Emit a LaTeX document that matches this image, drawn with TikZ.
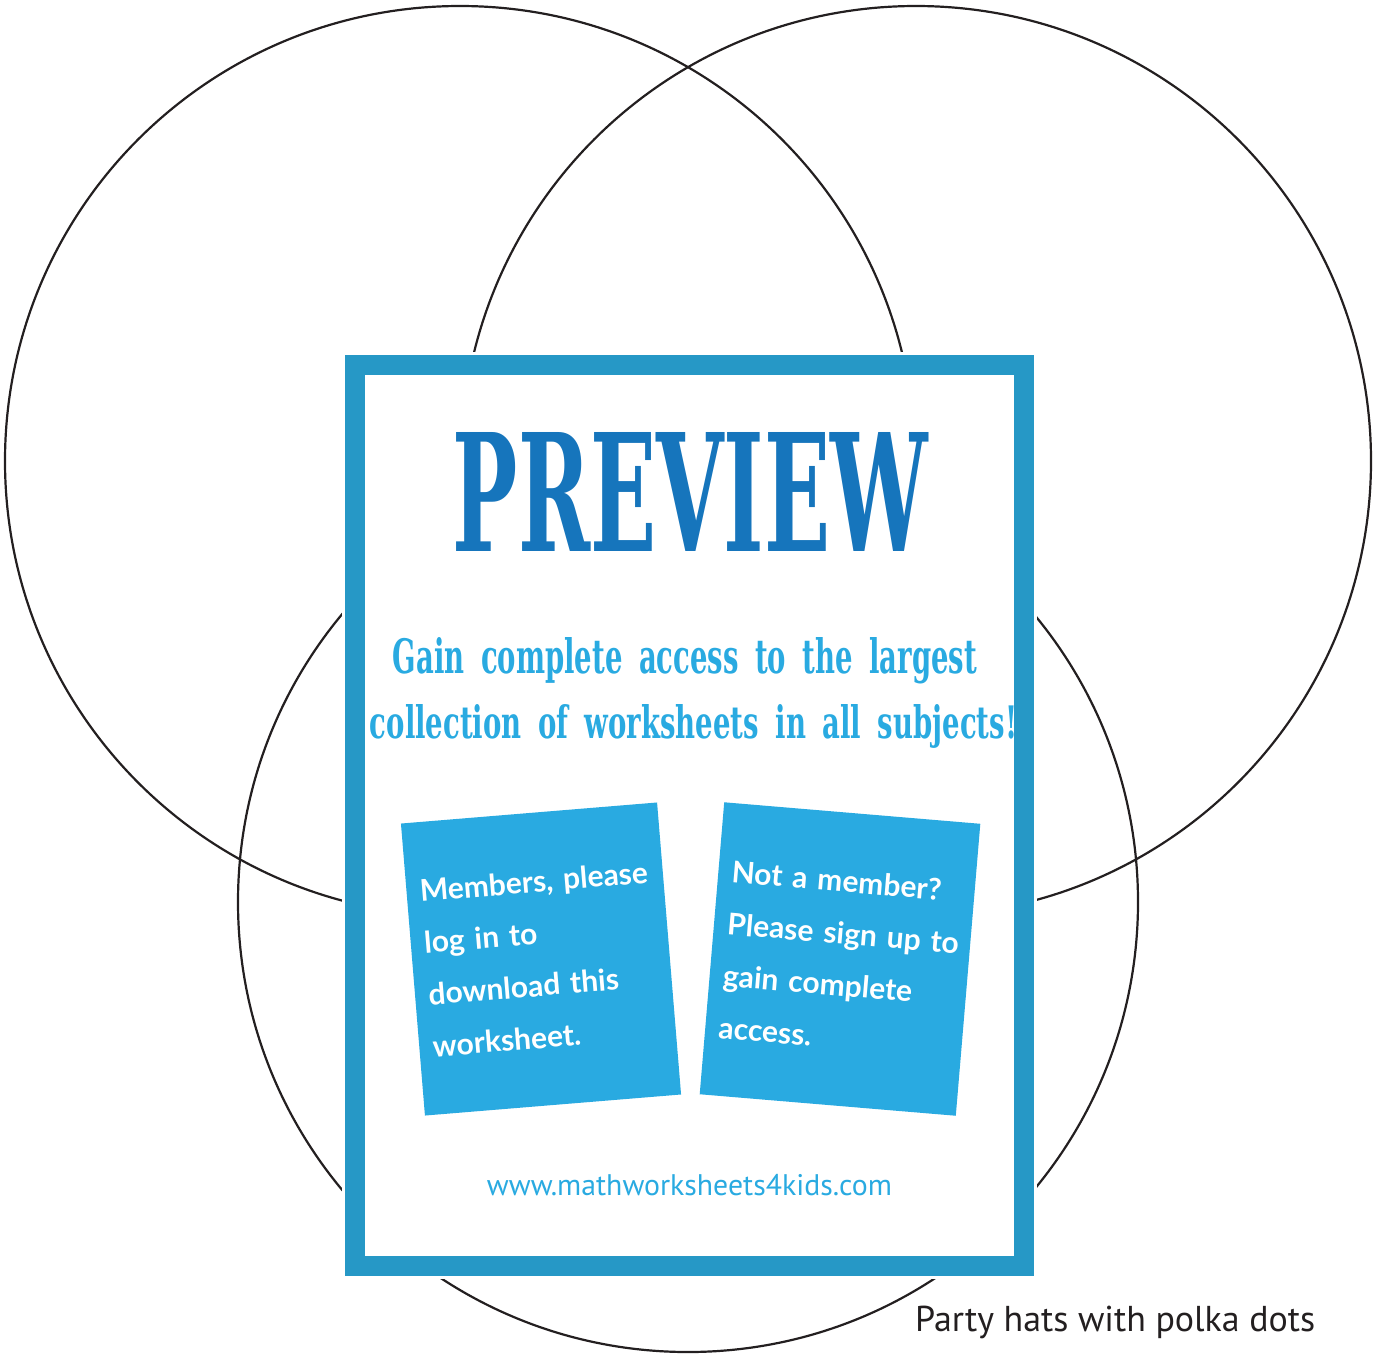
\documentclass[tikz,border=0pt]{standalone}
\usepackage{fontspec}
\usepackage{graphicx}
\newfontfamily\slabfont{DejaVu Serif}
\newfontfamily\handfont{Lato}
\newfontfamily\webfont{PT Sans}
\definecolor{frameblue}{RGB}{38,152,198}
\definecolor{titleblue}{RGB}{22,117,188}
\definecolor{skyblue}{RGB}{41,170,225}
\definecolor{inkgray}{RGB}{35,31,32}
\newcommand\widegaps{\spaceskip=.6em\relax}

\begin{document}
\begin{tikzpicture}[x=1pt,y=-1pt]
        \tikzstyle{every node}=[inner sep=0pt]
        \useasboundingbox (0,0) rectangle (1380,1353);

        \edef\ringsize{910pt}
        \tikzstyle{ring}=[draw=inkgray,line width=2.2pt,circle,minimum size=\ringsize]
        \tikzstyle{frame}=[draw=frameblue,line width=20pt,fill=white,
            preaction={draw=white,line width=26pt},
            minimum width=669pt,minimum height=901pt]
        \tikzstyle{card}=[fill=skyblue,minimum width=257pt,minimum height=293pt,
            text=white,align=left,text width=230pt,
            font=\handfont\bfseries\fontsize{30}{52}\selectfont]
        \tikzstyle{slab}=[text=skyblue,anchor=base,font=\slabfont\bfseries]

        %the three sets
        \node [ring] (lset) at (460,461) {};
        \node [ring] (rset) at (916,461) {};
        \node [ring,minimum size=900pt] (bset) at (688,902) {};

        %preview sheet on top
        \node [frame] (sheet) at (689.5,815.5) {};
        \node [anchor=base,text=titleblue] (title) at (690.5,551)
            {\resizebox{475pt}{119pt}{\slabfont\bfseries PREVIEW}};
        \node [slab] (gainline) at (685,673)
            {\resizebox{584pt}{36pt}{\widegaps Gain complete access to the largest}};
        \node [slab] (collline) at (693.5,738)
            {\resizebox{647pt}{34pt}{\widegaps collection of worksheets in all subjects!}};

        %the two cards
        \node [card,rotate=4.7] (memberbox) at (541,959)
            {\mbox{Members, please}\\\mbox{log in to}\\\mbox{download this}\\\mbox{worksheet.}};
        \node [card,rotate=-4.8] (joinbox) at (840,959)
            {\mbox{Not a member?}\\\mbox{Please sign up to}\\\mbox{gain complete}\\\mbox{access.}};

        \node [anchor=base,text=skyblue] (weblink) at (689.5,1195)
            {\resizebox{405pt}{!}{\webfont www.mathworksheets4kids.com}};

        %label of the bottom set
        \node [anchor=base west,text=inkgray] (setlabel) at (915,1331)
            {\resizebox{400pt}{!}{\webfont Party hats with polka dots}};
\end{tikzpicture}
\end{document}
